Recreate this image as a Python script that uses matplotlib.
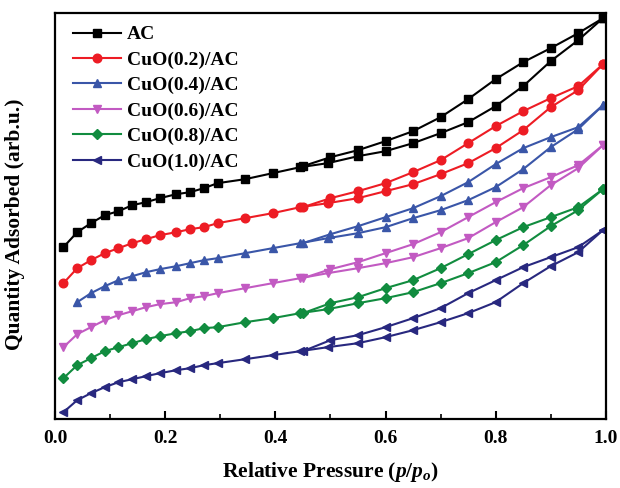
import matplotlib
matplotlib.use("Agg")
import matplotlib.pyplot as plt
from matplotlib.ticker import MultipleLocator

plt.rcParams["font.family"] = ["Liberation Serif", "DejaVu Serif"]
plt.rcParams["font.weight"] = "bold"
plt.rcParams["mathtext.fontset"] = "custom"
plt.rcParams["mathtext.rm"] = "Liberation Serif:bold"
plt.rcParams["mathtext.it"] = "Liberation Serif:italic:bold"
plt.rcParams["mathtext.bf"] = "Liberation Serif:bold"

# relative pressure points, adsorption (up) and desorption (down) branches
p_ads = [0.015, 0.04, 0.065, 0.09, 0.115, 0.14, 0.165, 0.19, 0.22, 0.245, 0.27, 0.295,
         0.345, 0.395, 0.445, 0.495, 0.55, 0.6, 0.65, 0.7, 0.75, 0.8, 0.85, 0.9, 0.95, 0.995]
p_des = [0.995, 0.95, 0.9, 0.85, 0.8, 0.75, 0.7, 0.65, 0.6, 0.55, 0.5, 0.45]

# quantity adsorbed, arbitrary units (curves are offset)
ac_ads = [172, 187, 196, 204, 208, 214, 217, 221, 225, 227, 231, 236, 240, 246, 252, 256,
          263, 268, 276, 286, 297, 313, 333, 358, 379, 401]
ac_des = [401, 386, 371, 357, 340, 320, 302, 288, 278, 269, 262, 253]

cu02_ads = [136, 151, 159, 166, 171, 176, 180, 184, 187, 190, 192, 196, 201, 206, 212, 216,
            221, 228, 235, 245, 256, 271, 289, 312, 329, 355]
cu02_des = [355, 333, 321, 308, 293, 276, 259, 247, 236, 228, 221, 212]

# the 0.4 sample has no point at p/p0 = 0.015
cu04_ads = [117, 126, 133, 139, 143, 147, 150, 153, 156, 159, 161, 166, 171, 176, 181,
            186, 192, 201, 209, 219, 232, 250, 272, 290, 314]
cu04_des = [314, 292, 282, 271, 255, 237, 223, 211, 202, 193, 185, 176]

cu06_ads = [72, 85, 92, 99, 104, 108, 112, 115, 117, 121, 123, 126, 131, 136, 141, 146,
            151, 156, 162, 171, 181, 197, 212, 234, 251, 274]
cu06_des = [274, 254, 242, 231, 217, 202, 187, 175, 166, 157, 150, 141]

cu08_ads = [41, 54, 61, 68, 72, 76, 80, 83, 86, 88, 91, 92, 97, 101, 106, 110,
            116, 121, 127, 136, 146, 157, 174, 193, 209, 230]
cu08_des = [230, 212, 202, 192, 179, 165, 151, 139, 131, 122, 116, 106]

cu10_ads = [7, 19, 26, 32, 37, 40, 43, 46, 49, 51, 54, 56, 60, 64, 68, 72,
            76, 82, 89, 97, 106, 117, 136, 153, 167, 189]
cu10_des = [189, 172, 162, 152, 139, 126, 111, 101, 92, 84, 79, 68]

series = [
    ("AC", p_ads, ac_ads, ac_des, "black", "s"),
    ("CuO(0.2)/AC", p_ads, cu02_ads, cu02_des, "#ed1c24", "o"),
    ("CuO(0.4)/AC", p_ads[1:], cu04_ads, cu04_des, "#3a56a8", "^"),
    ("CuO(0.6)/AC", p_ads, cu06_ads, cu06_des, "#c25ac2", "v"),
    ("CuO(0.8)/AC", p_ads, cu08_ads, cu08_des, "#118c3f", "D"),
    ("CuO(1.0)/AC", p_ads, cu10_ads, cu10_des, "#28287f", "<"),
]

fig = plt.figure(figsize=(6.2, 4.88), dpi=100)
ax = fig.add_axes([0.089, 0.141, 0.888, 0.832])

for label, px, ads, des, color, marker in series:
    ms = 5.3 if marker == "D" else 6.2
    ax.plot(px, ads, color=color, marker=marker, markersize=ms, linewidth=1.5, label=label)
    ax.plot(p_des, des, color=color, marker=marker, markersize=ms, linewidth=1.5)

ax.set_xlim(0, 1.0)
ax.set_ylim(0, 406)
ax.xaxis.set_major_locator(MultipleLocator(0.2))
ax.xaxis.set_minor_locator(MultipleLocator(0.1))
ax.set_yticks([])
ax.tick_params(axis="x", which="major", direction="in", length=6, width=1.5,
               labelsize=14, pad=8)
ax.tick_params(axis="x", which="minor", direction="in", length=3.5, width=1.2)
for spine in ax.spines.values():
    spine.set_linewidth(1.6)

ax.set_xlabel("Relative Pressure ($\\it{p/p}_{o}$)", fontsize=15.5,
              fontweight="bold", labelpad=9)
ax.set_ylabel("Quantity Adsorbed (arb.u.)", fontsize=15.5, fontweight="bold")
ax.yaxis.set_label_coords(-0.055, 0.48)

ax.legend(loc="upper left", frameon=False, fontsize=14, handlelength=2.5,
          handletextpad=0.3, labelspacing=0.4, borderaxespad=0.5,
          bbox_to_anchor=(0.0, 1.012))

fig.savefig("out.png", dpi=100)
